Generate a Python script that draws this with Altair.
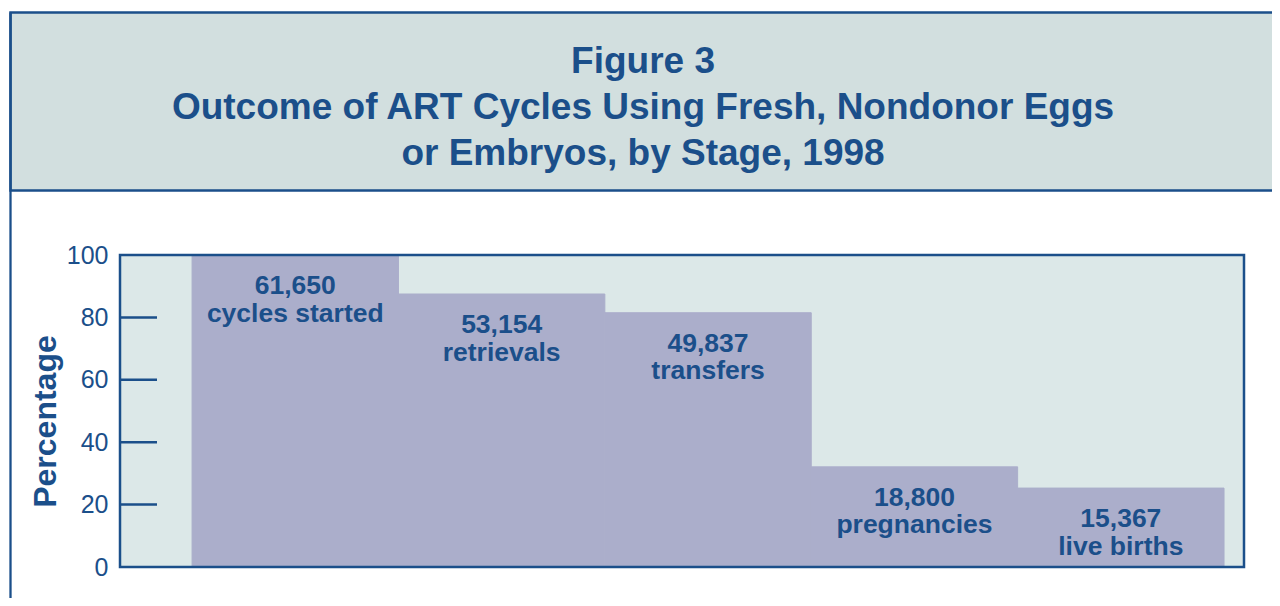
import altair as alt
import pandas as pd

# ---- data ----
stages = ["cycles started", "retrievals", "transfers", "pregnancies", "live births"]
counts = ["61,650", "53,154", "49,837", "18,800", "15,367"]
percentages = [100, 87.5, 81.5, 32.1, 25.3]
y_ticks = [20, 40, 60, 80]
title_lines = ["Figure 3", "Outcome of ART Cycles Using  Fresh, Nondonor Eggs", "or Embryos, by Stage, 1998"]

DARK = "#1b4f8a"
BANNER = "#d2dfdf"
PLOTBG = "#dce8e8"
BAR = "#abaecb"
FONT = "Liberation Sans"

df = pd.DataFrame({
    "stage": stages,
    "pct": percentages,
    "label": [c + "\n" + s for c, s in zip(counts, stages)],
})
ticks_df = pd.DataFrame({"pct": y_ticks})
one = pd.DataFrame({"t": ["\n".join(title_lines)]})

W, H = 1124, 312

x_scale = alt.Scale(domain=stages, paddingInner=0, paddingOuter=0.223, align=0.783)
y_scale = alt.Scale(domain=[0, 100], nice=False, zero=True)
y_axis = alt.Axis(values=[0, 20, 40, 60, 80, 100], ticks=False, tickSize=0, domain=False,
                  grid=False, labelFontSize=25, labelColor=DARK, labelFont=FONT,
                  labelPadding=12, titleFontSize=32, titleFont=FONT, titleFontWeight="bold",
                  titleColor=DARK, titleX=-58, titleY=166)


def yenc():
    return alt.Y("pct:Q", scale=y_scale, axis=y_axis, title="Percentage")


def xenc():
    return alt.X("stage:N", scale=x_scale, sort=stages, axis=None)


# decorative banner, frame and plot background
banner = alt.Chart(one).mark_rect(fill=BANNER, stroke=DARK, strokeWidth=2.5).encode(
    x=alt.value(-109.5), x2=alt.value(1250), y=alt.value(-242.5), y2=alt.value(-64.5)
)
left_line = alt.Chart(one).mark_rule(color=DARK, strokeWidth=2.3).encode(
    x=alt.value(-109.5), y=alt.value(-242.5), y2=alt.value(360)
)
plot_bg = alt.Chart(one).mark_rect(fill=PLOTBG, strokeWidth=0).encode(
    x=alt.value(0), x2=alt.value(W), y=alt.value(0), y2=alt.value(H)
)
plot_border = alt.Chart(one).mark_rect(fillOpacity=0, stroke=DARK, strokeWidth=2.5).encode(
    x=alt.value(0), x2=alt.value(W), y=alt.value(0), y2=alt.value(H)
)
title = alt.Chart(one).mark_text(
    lineBreak="\n", fontSize=37, fontWeight="bold", font=FONT, color=DARK,
    align="center", baseline="top", lineHeight=46
).encode(x=alt.value(523), y=alt.value(-211), text="t:N")

bars = alt.Chart(df).mark_bar(color=BAR, stroke=BAR, strokeWidth=1).encode(x=xenc(), y=yenc())

tick_rules = alt.Chart(ticks_df).mark_rule(color=DARK, strokeWidth=2.5).encode(
    y=yenc(), x=alt.value(0), x2=alt.value(37)
)

labels = alt.Chart(df).mark_text(
    lineBreak="\n", fontSize=26.5, fontWeight="bold", font=FONT, color=DARK,
    align="center", baseline="top", lineHeight=27.5, dy=18
).encode(x=xenc(), y=yenc(), text="label:N")

chart = alt.layer(banner, left_line, title, plot_bg, bars, tick_rules, labels, plot_border).properties(
    width=W, height=H,
    autosize=alt.AutoSizeParams(type="none"),
    padding={"left": 112, "top": 247, "right": 28, "bottom": 31},
).configure(font=FONT).configure_view(stroke=None, fill=None)

chart.save("out.html", embed_options={"renderer": "svg", "actions": False})
